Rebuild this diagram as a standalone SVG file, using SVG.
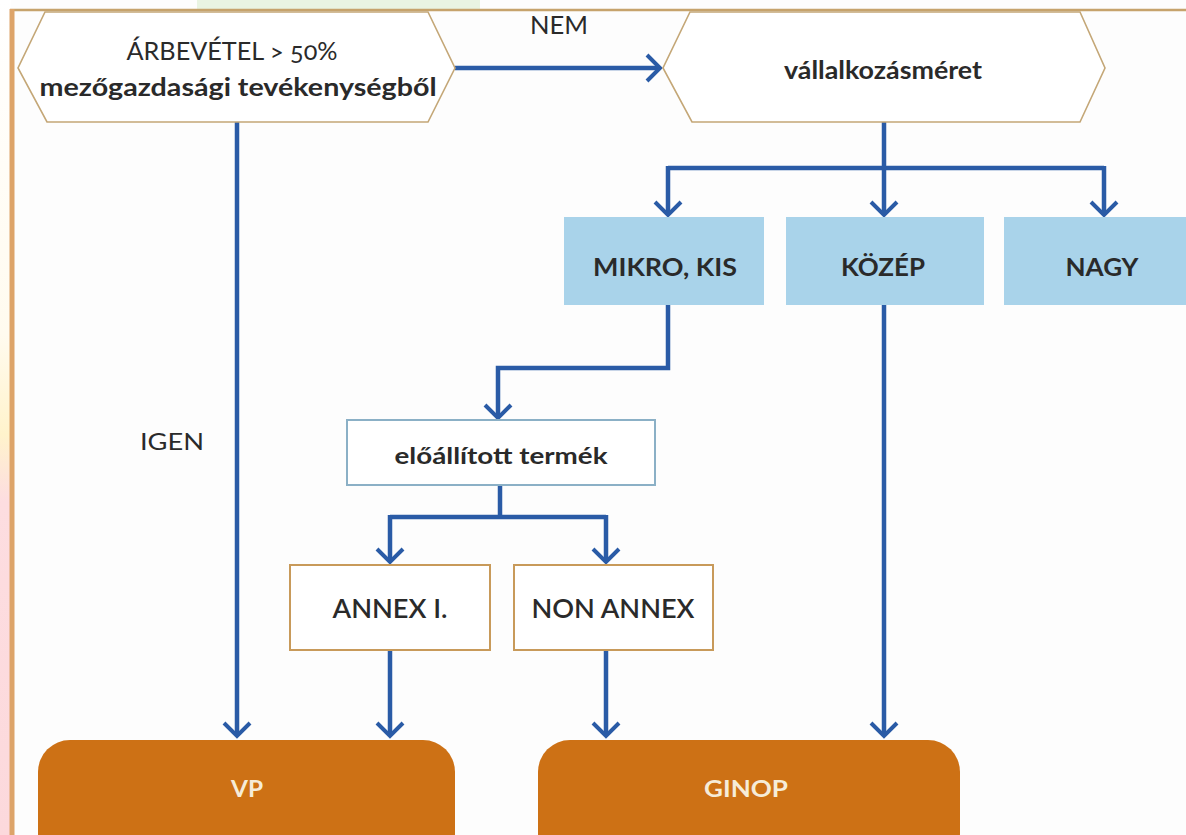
<svg xmlns="http://www.w3.org/2000/svg" width="1186" height="835" viewBox="0 0 1186 835">
<defs>
<linearGradient id="lstrip" x1="0" y1="0" x2="0" y2="1">
<stop offset="0" stop-color="#ffffff"/>
<stop offset="0.4" stop-color="#fffbef"/>
<stop offset="0.52" stop-color="#fff3cc"/>
<stop offset="0.6" stop-color="#fddde0"/>
<stop offset="1" stop-color="#fcd9dc"/>
</linearGradient>
<marker id="chev" viewBox="-16 -16 20 32" markerWidth="20" markerHeight="32" refX="0" refY="0" orient="auto" markerUnits="userSpaceOnUse">
<path d="M -13 -13 L 0 0 L -13 13" fill="none" stroke="#2a5ba6" stroke-width="4" stroke-linecap="butt" stroke-linejoin="miter"/>
</marker>
<style>
.conn{fill:none;stroke:#2a5ba6;stroke-width:4.5;stroke-linejoin:miter}
.hex{fill:#ffffff;stroke:#c4a777;stroke-width:1.6}
.blue{fill:#a9d3ea}
.wbox{fill:#ffffff;stroke:#8bb0c6;stroke-width:2}
.obox{fill:#ffffff;stroke:#c89a5a;stroke-width:2}
.prog{fill:#cd7115}
.t{font-family:Lato,"Open Sans","Liberation Sans",sans-serif;fill:#2a2a2a;text-anchor:middle}
.b{font-weight:700}
.lt{fill:#f6ecd8}
</style>
</defs>
<rect x="0" y="0" width="1186" height="835" fill="#fdfdfd"/>
<rect x="0" y="0" width="11" height="835" fill="url(#lstrip)"/>
<rect x="197" y="0" width="283" height="9" fill="#e9f4e2"/>
<line x1="10" y1="10" x2="1186" y2="10" stroke="#c6a36c" stroke-width="2.5"/>
<line x1="12" y1="9" x2="12" y2="835" stroke="#dda469" stroke-width="5"/>

<g id="connectors">
<path class="conn" d="M 455 68 L 660 68" marker-end="url(#chev)"/>
<path class="conn" d="M 237 122 L 237 736" marker-end="url(#chev)"/>
<path class="conn" d="M 884 122 L 884 168"/>
<path class="conn" d="M 668 168 L 1104 168"/>
<path class="conn" d="M 668 166 L 668 215" marker-end="url(#chev)"/>
<path class="conn" d="M 884 166 L 884 215" marker-end="url(#chev)"/>
<path class="conn" d="M 1104 166 L 1104 215" marker-end="url(#chev)"/>
<path class="conn" d="M 668 305 L 668 368 L 498 368 L 498 418" marker-end="url(#chev)"/>
<path class="conn" d="M 500 485 L 500 517"/>
<path class="conn" d="M 390 517 L 606 517"/>
<path class="conn" d="M 390 515 L 390 562" marker-end="url(#chev)"/>
<path class="conn" d="M 606 515 L 606 562" marker-end="url(#chev)"/>
<path class="conn" d="M 390 650 L 390 736" marker-end="url(#chev)"/>
<path class="conn" d="M 606 650 L 606 736" marker-end="url(#chev)"/>
<path class="conn" d="M 884 305 L 884 736" marker-end="url(#chev)"/>
<text class="t" x="559" y="34" font-size="25" textLength="58" lengthAdjust="spacingAndGlyphs">NEM</text>
<text class="t" x="172" y="450" font-size="24" textLength="64" lengthAdjust="spacingAndGlyphs">IGEN</text>
</g>

<g id="arbevetel">
<polygon class="hex" points="45,12 428,12 455,68 428,122 47,122 18,68"/>
<text class="t" x="232" y="60" font-size="25" textLength="211" lengthAdjust="spacingAndGlyphs" style="font-variant-numeric:oldstyle-nums">ÁRBEVÉTEL &gt; 50%</text>
<text class="t b" x="238" y="96" font-size="25" textLength="397" lengthAdjust="spacingAndGlyphs">mezőgazdasági tevékenységből</text>
</g>

<g id="vallalkozasmeret">
<polygon class="hex" points="690,12 1080,12 1105,68 1080,122 692,122 663,68"/>
<text class="t b" x="883" y="79" font-size="25" textLength="198" lengthAdjust="spacingAndGlyphs">vállalkozásméret</text>
</g>

<g id="mikro">
<rect class="blue" x="564" y="217" width="200" height="88"/>
<text class="t b" x="665" y="276" font-size="25" textLength="144" lengthAdjust="spacingAndGlyphs">MIKRO, KIS</text>
</g>
<g id="kozep">
<rect class="blue" x="786" y="217" width="198" height="88"/>
<text class="t b" x="883" y="276" font-size="25" textLength="84" lengthAdjust="spacingAndGlyphs">KÖZÉP</text>
</g>
<g id="nagy">
<rect class="blue" x="1004" y="217" width="182" height="88"/>
<text class="t b" x="1102" y="276" font-size="25" textLength="73" lengthAdjust="spacingAndGlyphs">NAGY</text>
</g>

<g id="eloallitott">
<rect class="wbox" x="347" y="420" width="308" height="65"/>
<text class="t b" x="501" y="464" font-size="22" textLength="213" lengthAdjust="spacingAndGlyphs">előállított termék</text>
</g>

<g id="annex">
<rect class="obox" x="290" y="565" width="200" height="85"/>
<text class="t" x="390" y="618" font-size="27" font-weight="600" textLength="115" lengthAdjust="spacingAndGlyphs">ANNEX I.</text>
</g>
<g id="nonannex">
<rect class="obox" x="514" y="565" width="199" height="85"/>
<text class="t" x="613" y="618" font-size="27" font-weight="600" textLength="163" lengthAdjust="spacingAndGlyphs">NON ANNEX</text>
</g>

<g id="vp">
<rect class="prog" x="38" y="740" width="417" height="125" rx="32"/>
<text class="t b lt" x="247" y="797" font-size="22" textLength="32" lengthAdjust="spacingAndGlyphs">VP</text>
</g>
<g id="ginop">
<rect class="prog" x="538" y="740" width="422" height="125" rx="32"/>
<text class="t b lt" x="746" y="797" font-size="22" textLength="84" lengthAdjust="spacingAndGlyphs">GINOP</text>
</g>
</svg>
